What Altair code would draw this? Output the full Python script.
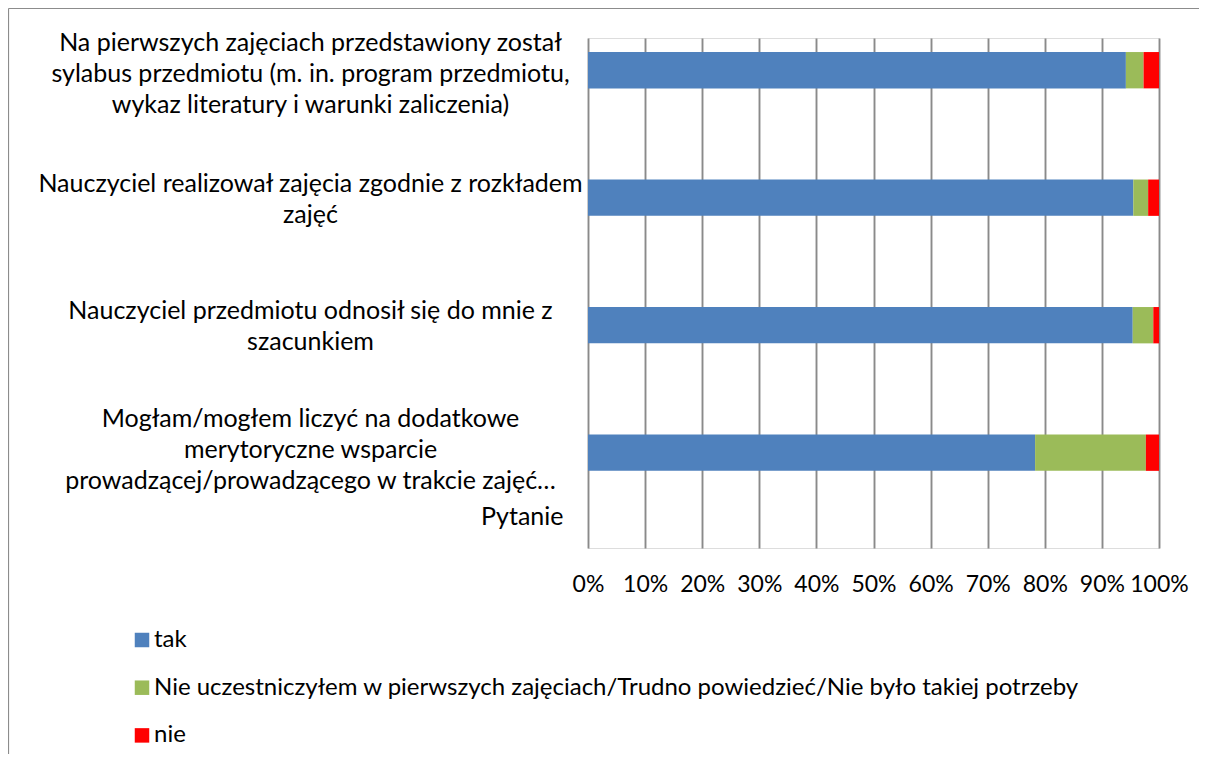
import altair as alt
import pandas as pd

# --- data ---
questions = [
    "Na pierwszych zajęciach przedstawiony został|sylabus przedmiotu (m. in. program przedmiotu,|wykaz literatury i warunki zaliczenia)",
    "Nauczyciel realizował zajęcia zgodnie z rozkładem|zajęć",
    "Nauczyciel przedmiotu odnosił się do mnie z|szacunkiem",
    "Mogłam/mogłem liczyć na dodatkowe|merytoryczne wsparcie|prowadzącej/prowadzącego w trakcie zajęć…",
]
series = ["tak",
          "Nie uczestniczyłem w pierwszych zajęciach/Trudno powiedzieć/Nie było takiej potrzeby",
          "nie"]
tak = [94.2, 95.5, 95.4, 78.3]
trudno = [3.1, 2.6, 3.6, 19.4]
nie = [2.7, 1.9, 1.0, 2.3]
colors = ["#4F81BD", "#9BBB59", "#FF0000"]
tick_values = [0, 0.1, 0.2, 0.3, 0.4, 0.5, 0.6, 0.7, 0.8, 0.9, 1.0]

rows = []
for i, q in enumerate(questions):
    for j, (s, vals) in enumerate(zip(series, [tak, trudno, nie])):
        rows.append({"Pytanie": q, "series": s, "value": vals[i], "order": j})
df = pd.DataFrame(rows)

FONT = "Lato"
FS = 23
YFS = 25

bars = alt.Chart(df).mark_bar().encode(
    x=alt.X("value:Q", stack="normalize",
            scale=alt.Scale(domain=[0, 1], nice=False),
            axis=alt.Axis(values=tick_values, format=".0%", title=None,
                          grid=True, gridColor="#8a8a8a", gridWidth=1.9,
                          domain=False, ticks=False, labelPadding=36,
                          labelBaseline="middle", labelFont=FONT,
                          labelFontSize=FS, labelColor="#000000",
                          labelFlush=False)),
    y=alt.Y("Pytanie:N", sort=questions,
            scale=alt.Scale(paddingInner=0.715, paddingOuter=0.3576, align=0.154),
            axis=alt.Axis(title="Pytanie", titleAngle=0, titleAlign="right",
                          titleBaseline="middle", titleX=-25, titleY=478,
                          titleFont=FONT, titleFontSize=YFS, titleFontWeight="normal",
                          titleColor="#000000",
                          labelExpr="split(datum.label, '|')",
                          labelAlign="center", labelBaseline="middle",
                          labelOffset={"condition": [
                              {"test": "indexof(datum.value, 'Mogłam') >= 0", "value": -34},
                              {"test": "indexof(datum.value, 'sylabus') >= 0", "value": -27},
                          ], "value": -14},
                          labelPadding=278, labelLineHeight=31, labelLimit=0,
                          labelFont=FONT, labelFontSize=YFS, labelColor="#000000",
                          domain=False, ticks=False, grid=False)),
    color=alt.Color("series:N", scale=alt.Scale(domain=series, range=colors),
                    legend=alt.Legend(title=None, orient="none", legendX=-458, legendY=590,
                                      direction="vertical", symbolType="square",
                                      symbolSize=210, symbolStrokeWidth=0,
                                      rowPadding=23.7, labelOffset=0, labelLimit=0,
                                      labelFont=FONT, labelFontSize=24,
                                      labelColor="#000000")),
    order=alt.Order("order:Q"),
)

frame = pd.DataFrame({"k": [0]})
left_border = alt.Chart(frame).mark_rule(color="#8c8c8c", strokeWidth=1.2).encode(
    x=alt.value(-579.5), y=alt.value(-29.5), y2=alt.value(716))
top_border = alt.Chart(frame).mark_rule(color="#8c8c8c", strokeWidth=1.2).encode(
    x=alt.value(-579.5), x2=alt.value(611), y=alt.value(-29.5))

chart = alt.layer(bars, left_border, top_border).properties(
    width=571, height=510,
    autosize=alt.AutoSizeParams(type="none"),
    padding={"left": 580, "top": 30, "right": 40, "bottom": 206},
).configure_view(strokeWidth=0).configure(background="white")

chart.save("out.html", embed_options={"renderer": "svg", "actions": False})
